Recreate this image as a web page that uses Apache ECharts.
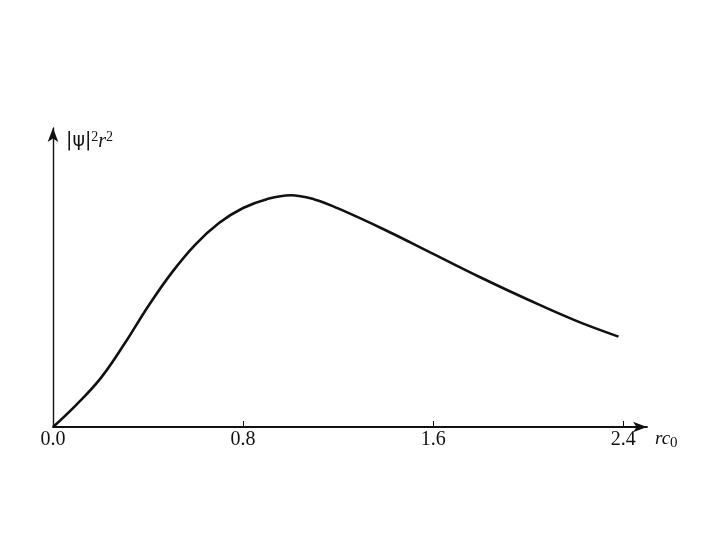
<!DOCTYPE html>
<html>
<head>
<meta charset="utf-8">
<script src="https://cdn.jsdelivr.net/npm/echarts@6/dist/echarts.min.js"></script>
<style>html,body{margin:0;padding:0;background:#fff;}#c{width:720px;height:540px;}</style>
</head>
<body>
<div id="c"></div>
<script>
// rc0 values and |psi|^2 r^2 (relative, peak = 1)
const xValues = [0, 0.1, 0.2, 0.3, 0.4, 0.5, 0.6, 0.7, 0.8, 0.9, 1.0, 1.1, 1.2, 1.4, 1.6, 1.8, 2.0, 2.2, 2.38];
const yValues = [0, 0.098, 0.21, 0.358, 0.52, 0.666, 0.788, 0.881, 0.945, 0.983, 1.0, 0.982, 0.943, 0.849, 0.747, 0.645, 0.549, 0.459, 0.39];
const xTicks = [0, 0.8, 1.6, 2.4];

const chart = echarts.init(document.getElementById('c'));
const serif = '"Liberation Serif","DejaVu Serif",serif';
chart.setOption({
  backgroundColor: '#ffffff',
  animation: false,
  grid: {left: 53, right: 73, top: 128, bottom: 113},
  xAxis: {
    type: 'value', min: 0, max: 2.5,
    name: '{i|rc}{s|0}',
    nameLocation: 'end', nameGap: 8,
    nameTextStyle: {
      verticalAlign: 'top', padding: [0, 0, 0, 0],
      rich: {
        i: {fontFamily: serif, fontStyle: 'italic', fontSize: 19, color: '#111'},
        s: {fontFamily: serif, fontSize: 15, color: '#111', verticalAlign: 'bottom', padding: [9, 0, 0, 0]}
      }
    },
    axisLine: {show: true, lineStyle: {color: '#111', width: 1.8}, symbol: ['none', 'arrow'], symbolSize: [8, 14], symbolOffset: [0, 0]},
    axisTick: {show: true, inside: true, length: 6, lineStyle: {color: '#111', width: 1}, customValues: xTicks},
    axisLabel: {show: true, customValues: xTicks, fontFamily: serif, fontSize: 20, color: '#111', margin: 3,
      formatter: v => v.toFixed(1)},
    splitLine: {show: false}
  },
  yAxis: {
    type: 'value', min: 0, max: 1.29,
    name: '{a|\u007C\u03C8\u007C}{s|2}{i|r}{s|2}',
    nameLocation: 'end', nameGap: -2,
    nameTextStyle: {
      align: 'left', verticalAlign: 'top', padding: [0, 0, 0, 13],
      rich: {
        a: {fontFamily: '"DejaVu Sans","Liberation Sans",sans-serif', fontSize: 19, color: '#111'},
        i: {fontFamily: serif, fontStyle: 'italic', fontSize: 20, color: '#111'},
        s: {fontFamily: serif, fontSize: 14, color: '#111', verticalAlign: 'top', padding: [0, 0, 9, 0]}
      }
    },
    axisLine: {show: true, lineStyle: {color: '#111', width: 1.4}, symbol: ['none', 'arrow'], symbolSize: [8, 14]},
    axisTick: {show: false},
    axisLabel: {show: false},
    splitLine: {show: false}
  },
  series: [{
    type: 'line',
    data: xValues.map((x, i) => [x, yValues[i]]),
    smooth: 0.4,
    showSymbol: false,
    lineStyle: {color: '#111', width: 2.6},
    z: 3
  }]
});
</script>
</body>
</html>
